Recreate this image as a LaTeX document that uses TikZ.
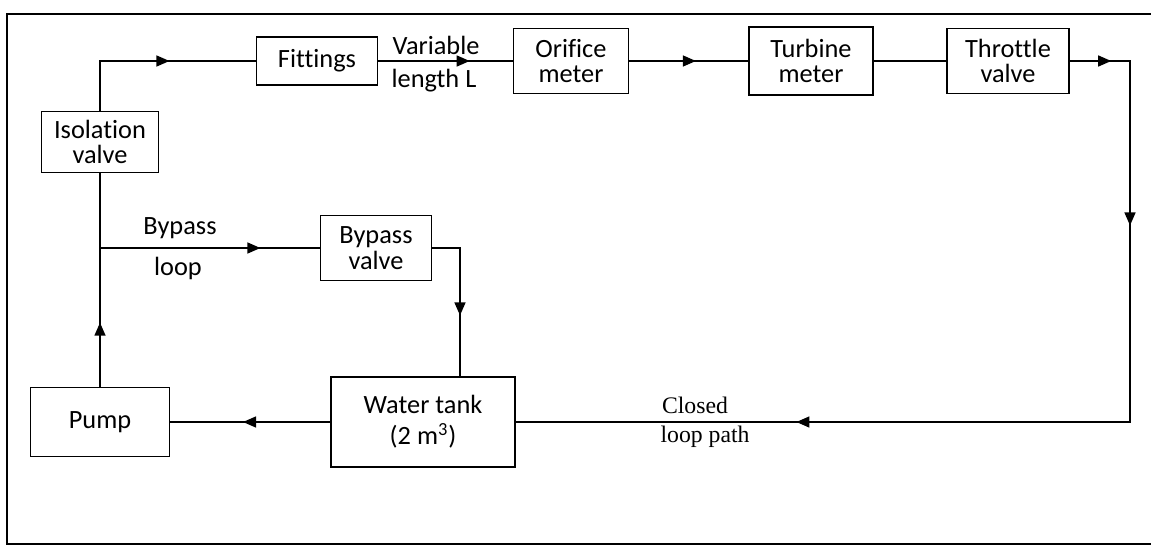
\documentclass[tikz,border=0pt]{standalone}
\usepackage{fontspec}
\setmainfont{Carlito}[Ligatures=NoCommon]
\newfontfamily\notefont{Liberation Serif}
\usetikzlibrary{arrows.meta,calc,decorations.markings}
\tikzset{
  flowtip/.tip={Triangle[length=2.6mm,width=2.2mm]},
  unit/.style={
    draw=black,
    line width=0.9pt,
    align=center,
    inner sep=1pt,
    font=\fontsize{15}{14.5}\selectfont
  },
  pipe/.style={
    draw=black,
    line width=0.8pt
  },
  flow/.style={
    pipe,
    postaction={decorate},
    decoration={markings, mark=at position #1 with {\arrow{flowtip}}}
  },
  pipelabel/.style={
    font=\fontsize{15}{15}\selectfont
  },
  looplabel/.style={
    font=\notefont\fontsize{13.5}{14}\selectfont
  }
}
\newcommand{\unitbox}[5]{%
  \node[unit, minimum width=#3, minimum height=#4] (#1) at (#2) {#5};
}

\begin{document}
\begin{tikzpicture}[x=0.02cm,y=-0.02cm]
\useasboundingbox (0,0) rectangle (1151,547);

% Scanned page frame.
\draw[line width=1pt] (1151,14) -- (7,14) -- (7,544) -- (1151,544);

% Main line.
\unitbox{isol}{100,142}{23.4mm}{12.2mm}{Isolation\\valve}
\unitbox{fit}{317,61}{24.2mm}{9.6mm}{Fittings}
\unitbox{orif}{571,61}{23mm}{13mm}{Orifice\\meter}
\unitbox{turb}{811,61}{24.8mm}{13.6mm}{Turbine\\meter}
\unitbox{thr}{1008,61}{24.4mm}{13mm}{Throttle\\valve}

% Bypass and return.
\unitbox{byp}{376,248}{22.2mm}{13mm}{Bypass\\valve}
\unitbox{pump}{100,422}{27.8mm}{13.8mm}{Pump}
\unitbox{tank}{423,422}{36.8mm}{18mm}{Water tank\\[3pt](2 m\textsuperscript{3})}

\coordinate (split) at (100,248);
\coordinate (turn) at (1130,61);

% Labels on the pipes.
\node[pipelabel] (varlen) at (436,45) {Variable};
\node[pipelabel] (lenL) at (434,81) {length L};
\node[pipelabel] (bytop) at (180,228) {Bypass};
\node[pipelabel] (bybot) at (178,268) {loop};
\node[looplabel] (cltop) at (695,405) {Closed};
\node[looplabel] (clbot) at (705,437) {loop path};

% Connectors.
\draw[flow=0.58] (isol.north) |- (fit.west);
\draw[flow=0.68] (fit.east) -- (orif.west);
\draw[flow=0.56] (orif.east) -- (turb.west);
\draw[pipe] (turb.east) -- (thr.west);
\draw[pipe, postaction={decorate},
  decoration={markings,
    mark=at position 0.04 with {\arrow{flowtip}},
    mark=at position 0.217 with {\arrow{flowtip}},
    mark=at position 0.729 with {\arrow{flowtip}}}]
  (thr.east) -- (turn) |- (tank.east);
\draw[flow=0.545] (tank.west) -- (pump.east);
\draw[flow=0.30] (pump.north) -- (isol.south);
\draw[flow=0.73] (split) -- (byp.west);
\draw[flow=0.61] (byp.east) -| ($(tank.north)+(37,0)$);

\end{tikzpicture}
\end{document}
